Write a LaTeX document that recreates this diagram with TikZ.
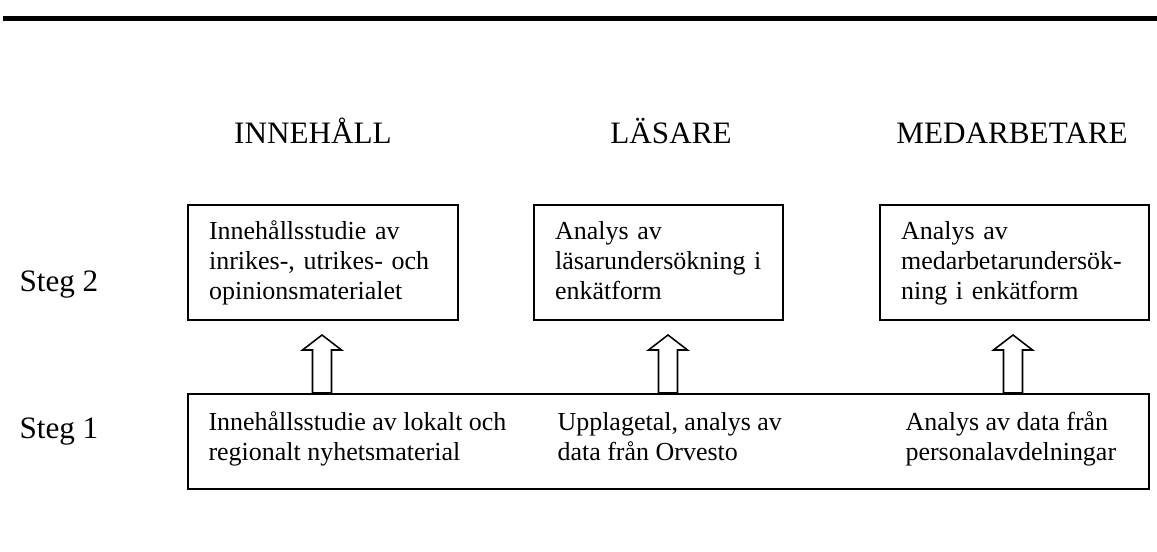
\documentclass[tikz,border=0pt]{standalone}
\usepackage{fontspec}
\setmainfont{Liberation Serif}
\usetikzlibrary{calc}

\begin{document}
\begin{tikzpicture}[x=0.385pt,y=-0.385pt,
    every node/.style={inner sep=0pt},
    ruta/.style={draw,line width=0.6pt,anchor=north west,align=left,
      inner xsep=8.2pt,minimum height=44.3pt,
      text height=7.6pt,text depth=25.3pt,
      font=\fontsize{10}{11.55}\selectfont},
    rubrik/.style={anchor=base,font=\fontsize{12}{14}\selectfont},
    steg/.style={anchor=base west,font=\fontsize{12}{14}\selectfont},
    celltext/.style={anchor=base west,align=left,
      font=\fontsize{10}{11.55}\selectfont},
    pil/.style={draw,line width=0.6pt,fill=white,line join=miter}
  ]
  \useasboundingbox (0,0) rectangle (1157,552);
  % thick rule at the top
  \draw[line width=1.925pt] (3,18.5) -- (1157,18.5);

  % column headings
  \node[rubrik] (innehall) at (313,144) {INNEHÅLL};
  \node[rubrik] (lasare) at (671,144) {LÄSARE};
  \node[rubrik] (medarbetare) at (1012,144) {MEDARBETARE};

  % row labels
  \node[steg] (steg2lbl) at (19,292) {Steg 2};
  \node[steg] (steg1lbl) at (19,438) {Steg 1};

  % steg 2
  \node[ruta,text width=87.6pt] (innehall2) at (187,204)
    {Innehållsstudie av\\inrikes-, utrikes- och\\opinionsmaterialet};
  \node[ruta,text width=79.5pt] (lasare2) at (533,204)
    {Analys av\\läsarundersökning i\\enkätform};
  \node[ruta,text width=87.2pt] (medarbetare2) at (879,204)
    {Analys av\\medarbetarundersök-\\ning i enkätform};

  % steg 1 (base anchor sits on the last line)
  \node[draw,line width=0.6pt,anchor=north west,minimum width=370pt,
    minimum height=36.6pt] (steg1) at (187,393) {};
  \node[celltext] (innehall1) at (208,460)
    {Innehållsstudie av lokalt och\\regionalt nyhetsmaterial};
  \node[celltext] (lasare1) at (557,460)
    {Upplagetal, analys av\\data från Orvesto};
  \node[celltext] (medarbetare1) at (905,460)
    {Analys av data från\\personalavdelningar};

  % block arrows from steg 1 up to steg 2
  \foreach \x in {322,668,1013}
    \draw[pil] (steg1.north -| \x,0) -- ++(-9.5,0) -- ++(0,-43)
      -- ++(-10,0) -- ++(19.5,-15) -- ++(19.5,15) -- ++(-10,0)
      -- ++(0,43) -- cycle;
\end{tikzpicture}
\end{document}
